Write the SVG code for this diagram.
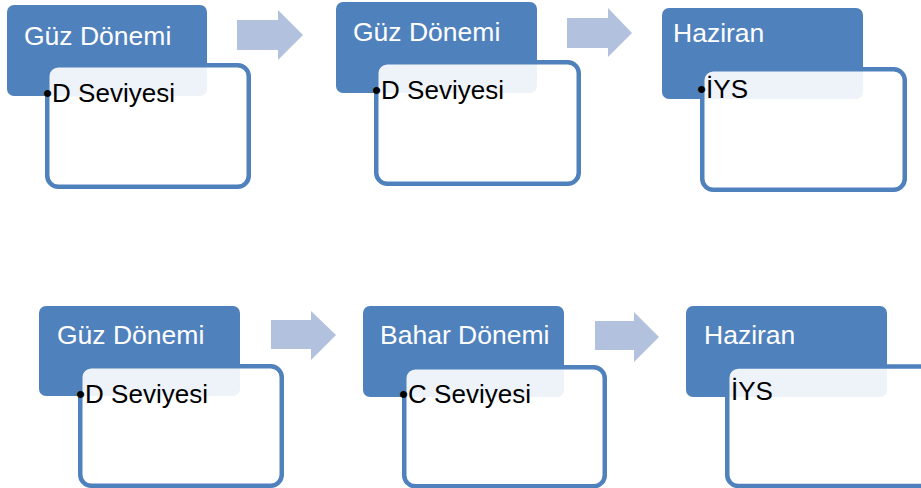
<svg xmlns="http://www.w3.org/2000/svg" width="921" height="488" viewBox="0 0 921 488">
<style>
.hdr{fill:#4F81BD}
.box{fill:#FFFFFF;fill-opacity:0.9;stroke:#4F81BD;stroke-width:4.5}
.arr{fill:#B1C1DE}
.ht{font-family:"Liberation Sans",Arial,sans-serif;font-size:26.5px;fill:#FFFFFF}
.bt{font-family:"Liberation Sans",Arial,sans-serif;font-size:26px;fill:#000000}
</style>
<rect width="921" height="488" fill="#FFFFFF"/>
<g id="connectors">
<polygon class="arr" points="237,20 278,20 278,10 303,35 278,60 278,50 237,50"/>
<polygon class="arr" points="567,18 608,18 608,8 632,33 608,57 608,48 567,48"/>
<polygon class="arr" points="271,320 311,320 311,311 336,335 311,360 311,349 271,349"/>
<polygon class="arr" points="595,321 634,321 634,312 659,337 634,362 634,350 595,350"/>
</g>
<g id="node1">
<rect class="hdr" x="7" y="5" width="200" height="91" rx="7"/>
<text class="ht" x="24" y="45">Güz Dönemi</text>
<rect class="box" x="47.25" y="65.25" width="201.5" height="121.5" rx="11"/>
<text class="bt" x="43" y="102">•D Seviyesi</text>
</g>
<g id="node2">
<rect class="hdr" x="336" y="2" width="201" height="91" rx="7"/>
<text class="ht" x="353" y="41">Güz Dönemi</text>
<rect class="box" x="376.25" y="62.25" width="202.5" height="121.5" rx="11"/>
<text class="bt" x="372" y="99">•D Seviyesi</text>
</g>
<g id="node3">
<rect class="hdr" x="662" y="8" width="201" height="91" rx="7"/>
<text class="ht" x="673" y="42">Haziran</text>
<rect class="box" x="702.25" y="69.25" width="202.5" height="120.5" rx="11"/>
<text class="bt" x="697" y="98">•İYS</text>
</g>
<g id="node4">
<rect class="hdr" x="39" y="306" width="201" height="90" rx="7"/>
<text class="ht" x="57" y="344">Güz Dönemi</text>
<rect class="box" x="80.25" y="366.25" width="201.5" height="119.5" rx="11"/>
<text class="bt" x="76" y="403">•D Seviyesi</text>
</g>
<g id="node5">
<rect class="hdr" x="363" y="306" width="201" height="91" rx="7"/>
<text class="ht" x="380" y="344">Bahar Dönemi</text>
<rect class="box" x="404.25" y="367.25" width="200.5" height="119" rx="11"/>
<text class="bt" x="399" y="403">•C Seviyesi</text>
</g>
<g id="node6">
<rect class="hdr" x="686" y="306" width="201" height="91" rx="7"/>
<text class="ht" x="704" y="344">Haziran</text>
<rect class="box" x="727.25" y="366.5" width="210" height="119.5" rx="11"/>
<text class="bt" x="731" y="400">İYS</text>
</g>
</svg>
